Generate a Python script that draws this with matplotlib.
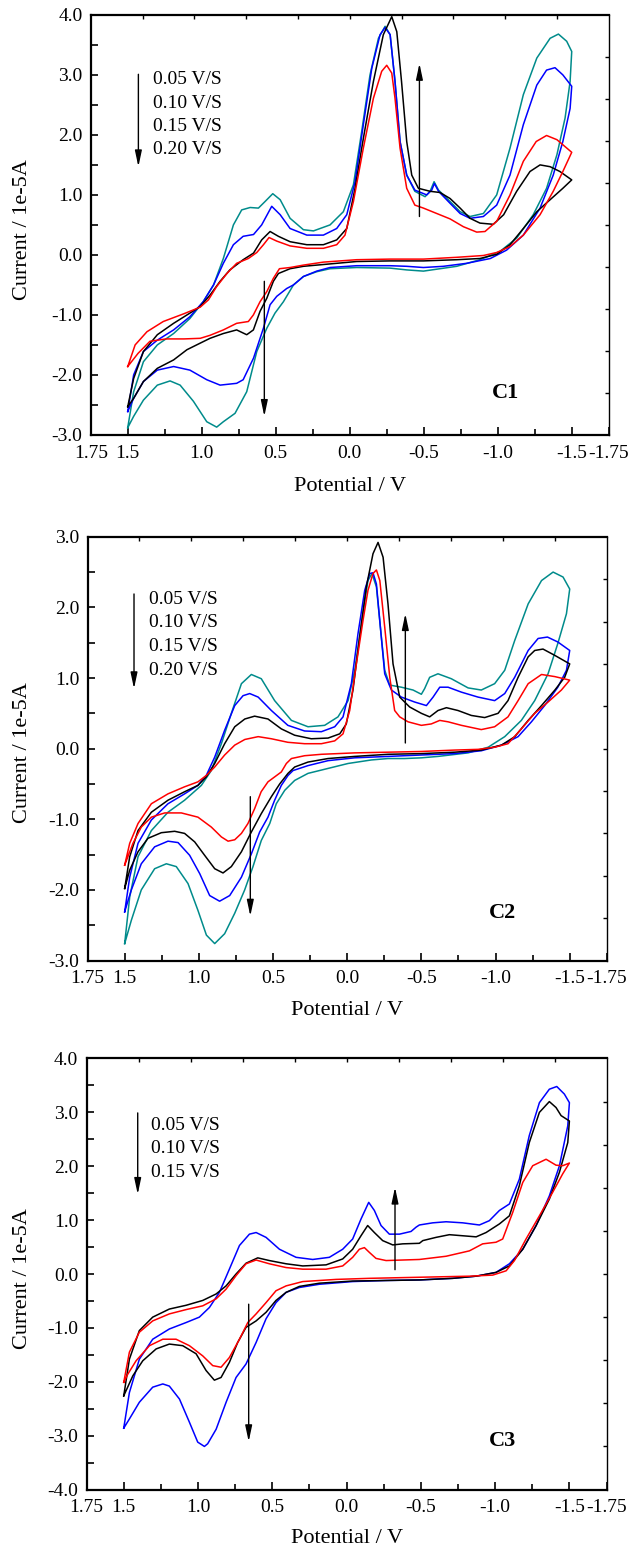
import numpy as np
import matplotlib
matplotlib.use("Agg")
import matplotlib.pyplot as plt

plt.rcParams['font.family'] = ['Liberation Serif', 'DejaVu Serif']
plt.rcParams['axes.unicode_minus'] = False

# ---- C1 : cyclic voltammograms (potential V, current 1e-5 A) ----
c1_red_v = [1.5, 1.45, 1.37, 1.26, 1.12, 1.01, 0.955, 0.90, 0.83, 0.764, 0.685, 0.628, 0.583, 0.545, 0.493, 0.403,
            0.29, 0.178, 0.088, 0.032, -0.025, -0.092, -0.16, -0.216, -0.25, -0.284, -0.306, -0.34, -0.385, -0.44,
            -0.498, -0.588, -0.678, -0.768, -0.858, -0.914, -0.993, -1.083, -1.173, -1.26, -1.33, -1.40, -1.5,
            -1.44, -1.375, -1.286, -1.173, -1.083, -0.993, -0.903, -0.723, -0.498, -0.272, -0.047, 0.178, 0.313,
            0.403, 0.475, 0.516, 0.56, 0.606, 0.651, 0.685, 0.764, 0.854, 0.944, 1.01, 1.12, 1.24, 1.35, 1.43, 1.5]
c1_red_i = [-1.86, -1.5, -1.28, -1.11, -0.98, -0.87, -0.75, -0.53, -0.31, -0.14, -0.06, 0.04, 0.17, 0.29, 0.23, 0.15,
            0.11, 0.11, 0.17, 0.33, 0.89, 1.78, 2.61, 3.06, 3.16, 3.03, 2.61, 1.78, 1.11, 0.83,
            0.78, 0.69, 0.6, 0.47, 0.38, 0.39, 0.56, 1.0, 1.56, 1.89, 1.99, 1.92, 1.71,
            1.39, 1.06, 0.67, 0.33, 0.14, 0.04, -0.01, -0.04, -0.07, -0.07, -0.08, -0.12, -0.17,
            -0.21, -0.23, -0.39, -0.61, -0.78, -1.0, -1.11, -1.14, -1.25, -1.34, -1.39, -1.4, -1.4, -1.44, -1.64, -1.86]

c1_black_v = [1.5, 1.46, 1.394, 1.30, 1.19, 1.08, 1.01, 0.944, 0.876, 0.81, 0.72, 0.65, 0.595, 0.538, 0.482, 0.403,
              0.29, 0.178, 0.088, 0.02, -0.036, -0.092, -0.16, -0.227, -0.284, -0.318, -0.35, -0.385, -0.419, -0.464,
              -0.543, -0.61, -0.678, -0.746, -0.813, -0.88, -0.97, -1.04, -1.128, -1.218, -1.286, -1.354, -1.42, -1.5,
              -1.44, -1.354, -1.264, -1.173, -1.083, -0.993, -0.88, -0.723, -0.498, -0.272, -0.047, 0.178, 0.313,
              0.403, 0.482, 0.516, 0.56, 0.606, 0.651, 0.696, 0.764, 0.854, 0.944, 1.01, 1.10, 1.19, 1.30, 1.394,
              1.46, 1.5]
c1_black_i = [-2.53, -2.06, -1.61, -1.33, -1.14, -0.97, -0.86, -0.67, -0.44, -0.25, -0.08, 0.03, 0.25, 0.39, 0.31, 0.22,
              0.17, 0.17, 0.25, 0.44, 1.11, 1.94, 2.89, 3.67, 3.97, 3.72, 2.89, 1.89, 1.33, 1.11,
              1.06, 1.04, 0.94, 0.78, 0.61, 0.53, 0.51, 0.67, 1.06, 1.39, 1.5, 1.47, 1.39, 1.25,
              1.11, 0.92, 0.72, 0.44, 0.17, 0.01, -0.06, -0.08, -0.1, -0.1, -0.11, -0.16, -0.19,
              -0.23, -0.31, -0.44, -0.72, -0.94, -1.25, -1.33, -1.25, -1.31, -1.39, -1.47, -1.58, -1.75, -1.89, -2.11,
              -2.39, -2.53]

c1_blue_v = [1.5, 1.46, 1.394, 1.30, 1.19, 1.08, 0.99, 0.92, 0.854, 0.786, 0.72, 0.65, 0.595, 0.527, 0.47, 0.403,
             0.29, 0.178, 0.088, 0.02, -0.036, -0.092, -0.149, -0.205, -0.239, -0.273, -0.306, -0.34, -0.385, -0.44,
             -0.52, -0.554, -0.572, -0.6, -0.678, -0.746, -0.813, -0.903, -0.993, -1.083, -1.173, -1.264, -1.33,
             -1.387, -1.44, -1.5,
             -1.489, -1.44, -1.375, -1.286, -1.173, -1.06, -0.95, -0.79, -0.633, -0.498, -0.385, -0.272, -0.047,
             0.133, 0.223, 0.313, 0.38, 0.426, 0.493, 0.538, 0.583, 0.65, 0.72, 0.764, 0.876, 0.966, 1.08, 1.19,
             1.30, 1.394, 1.46, 1.5]
c1_blue_i = [-2.61, -2.0, -1.61, -1.42, -1.25, -1.03, -0.78, -0.5, -0.14, 0.17, 0.31, 0.34, 0.5, 0.81, 0.67, 0.44,
             0.33, 0.33, 0.44, 0.67, 1.22, 2.17, 3.11, 3.67, 3.79, 3.67, 2.89, 1.89, 1.33, 1.08,
             1.0, 1.08, 1.19, 1.06, 0.86, 0.69, 0.61, 0.64, 0.83, 1.33, 2.17, 2.83, 3.08,
             3.12, 3.0, 2.81,
             2.44, 1.89, 1.33, 0.78, 0.33, 0.08, -0.06, -0.14, -0.19, -0.21, -0.19, -0.18, -0.18,
             -0.21, -0.27, -0.36, -0.5, -0.56, -0.69, -0.83, -1.22, -1.72, -2.08, -2.14, -2.17, -2.08, -1.92, -1.86,
             -1.92, -2.11, -2.39, -2.61]

c1_teal_v = [1.5, 1.46, 1.394, 1.30, 1.19, 1.08, 0.99, 0.92, 0.854, 0.786, 0.73, 0.673, 0.617, 0.572, 0.52, 0.47,
             0.403, 0.313, 0.245, 0.133, 0.043, -0.025, -0.081, -0.137, -0.194, -0.239, -0.273, -0.306, -0.34,
             -0.385, -0.44, -0.509, -0.543, -0.57, -0.6, -0.678, -0.746, -0.813, -0.903, -0.993, -1.083, -1.173,
             -1.264, -1.354, -1.41, -1.466, -1.5,
             -1.489, -1.455, -1.40, -1.33, -1.24, -1.128, -1.016, -0.88, -0.723, -0.498, -0.385, -0.272, -0.047,
             0.133, 0.223, 0.313, 0.38, 0.448, 0.505, 0.56, 0.628, 0.696, 0.775, 0.854, 0.899, 0.966, 1.056, 1.146,
             1.214, 1.30, 1.394, 1.46, 1.5]
c1_teal_i = [-2.88, -2.28, -1.78, -1.5, -1.31, -1.06, -0.78, -0.5, -0.06, 0.5, 0.75, 0.79, 0.78, 0.89, 1.02, 0.92,
             0.61, 0.42, 0.4, 0.5, 0.72, 1.17, 2.06, 3.0, 3.61, 3.81, 3.67, 2.89, 1.89,
             1.33, 1.06, 0.97, 1.06, 1.22, 1.08, 0.89, 0.72, 0.64, 0.69, 1.0, 1.78, 2.67,
             3.28, 3.61, 3.68, 3.56, 3.39,
             2.89, 2.28, 1.67, 1.11, 0.67, 0.28, 0.06, -0.08, -0.19, -0.27, -0.25, -0.22, -0.21,
             -0.23, -0.28, -0.36, -0.5, -0.78, -0.97, -1.22, -1.61, -2.28, -2.64, -2.78, -2.87, -2.78, -2.44, -2.17,
             -2.1, -2.17, -2.42, -2.69, -2.88]

# ---- C2 ----
c2_red_v = [1.5, 1.466, 1.41, 1.32, 1.208, 1.096, 1.006, 0.95, 0.893, 0.826, 0.758, 0.69, 0.60, 0.511, 0.40, 0.287,
            0.174, 0.084, 0.028, -0.017, -0.062, -0.107, -0.14, -0.174, -0.197, -0.22, -0.253, -0.287, -0.32,
            -0.354, -0.41, -0.5, -0.567, -0.624, -0.68, -0.77, -0.904, -0.994, -1.084, -1.152, -1.22, -1.31, -1.4,
            -1.5,
            -1.444, -1.354, -1.264, -1.174, -1.084, -0.994, -0.882, -0.725, -0.5, -0.275, -0.05, 0.174, 0.287,
            0.376, 0.41, 0.444, 0.489, 0.534, 0.58, 0.624, 0.669, 0.713, 0.758, 0.803, 0.848, 0.916, 1.006, 1.118,
            1.23, 1.32, 1.388, 1.444, 1.5]
c2_red_i = [-1.65, -1.34, -1.06, -0.78, -0.64, -0.54, -0.47, -0.38, -0.26, -0.09, 0.05, 0.13, 0.17, 0.14, 0.09, 0.07,
            0.07, 0.11, 0.21, 0.54, 1.2, 1.82, 2.24, 2.48, 2.53, 2.38, 1.72, 1.01, 0.54,
            0.45, 0.38, 0.33, 0.35, 0.4, 0.38, 0.33, 0.27, 0.31, 0.45, 0.68, 0.92, 1.05, 1.02,
            0.97,
            0.83, 0.66, 0.5, 0.28, 0.07, 0.02, -0.01, -0.02, -0.04, -0.05, -0.06, -0.08, -0.1,
            -0.14, -0.21, -0.33, -0.4, -0.47, -0.61, -0.85, -1.06, -1.2, -1.29, -1.31, -1.25, -1.11, -0.97, -0.91,
            -0.91, -0.97, -1.11, -1.34, -1.65]

c2_black_v = [1.5, 1.466, 1.41, 1.32, 1.208, 1.096, 1.006, 0.95, 0.893, 0.826, 0.758, 0.69, 0.624, 0.534, 0.444,
              0.354, 0.242, 0.129, 0.05, 0.006, -0.039, -0.084, -0.129, -0.174, -0.208, -0.242, -0.275, -0.309,
              -0.354, -0.421, -0.5, -0.556, -0.612, -0.669, -0.747, -0.837, -0.927, -1.017, -1.084, -1.152, -1.22,
              -1.264, -1.32, -1.40, -1.5,
              -1.466, -1.4, -1.31, -1.22, -1.13, -1.04, -0.904, -0.725, -0.5, -0.275, -0.05, 0.129, 0.264, 0.354,
              0.399, 0.455, 0.511, 0.579, 0.646, 0.713, 0.781, 0.837, 0.893, 0.961, 1.028, 1.096, 1.163, 1.253,
              1.343, 1.41, 1.466, 1.5]
c2_black_i = [-1.98, -1.53, -1.16, -0.9, -0.73, -0.61, -0.52, -0.4, -0.21, 0.07, 0.31, 0.42, 0.46, 0.42, 0.28,
              0.19, 0.14, 0.15, 0.21, 0.35, 0.83, 1.58, 2.29, 2.76, 2.92, 2.71, 2.05, 1.2,
              0.73, 0.59, 0.5, 0.45, 0.54, 0.58, 0.54, 0.47, 0.44, 0.5, 0.68, 1.01, 1.3,
              1.39, 1.41, 1.32, 1.2,
              1.01, 0.83, 0.61, 0.4, 0.17, 0.05, -0.02, -0.05, -0.07, -0.08, -0.11, -0.14, -0.19, -0.26,
              -0.35, -0.5, -0.68, -0.92, -1.18, -1.46, -1.67, -1.76, -1.7, -1.51, -1.32, -1.2, -1.17, -1.19,
              -1.27, -1.46, -1.72, -1.98]

c2_blue_v = [1.5, 1.466, 1.41, 1.32, 1.208, 1.096, 1.006, 0.95, 0.893, 0.826, 0.758, 0.702, 0.657, 0.6, 0.511, 0.4,
             0.287, 0.174, 0.084, 0.028, -0.028, -0.073, -0.118, -0.152, -0.174, -0.197, -0.226, -0.253, -0.298,
             -0.365, -0.455, -0.534, -0.579, -0.624, -0.68, -0.77, -0.882, -0.994, -1.062, -1.129, -1.22, -1.287,
             -1.35, -1.42, -1.5,
             -1.478, -1.42, -1.331, -1.242, -1.152, -1.04, -0.904, -0.725, -0.5, -0.275, -0.05, 0.129, 0.264,
             0.365, 0.399, 0.444, 0.489, 0.534, 0.59, 0.646, 0.713, 0.792, 0.86, 0.927, 0.994, 1.062, 1.14, 1.208,
             1.298, 1.388, 1.455, 1.5]
c2_blue_i = [-2.31, -1.82, -1.34, -1.01, -0.78, -0.64, -0.52, -0.38, -0.12, 0.26, 0.61, 0.75, 0.78, 0.73, 0.54, 0.33,
             0.25, 0.24, 0.31, 0.45, 0.92, 1.63, 2.24, 2.48, 2.49, 2.33, 1.67, 1.06, 0.83,
             0.73, 0.66, 0.61, 0.73, 0.87, 0.87, 0.8, 0.73, 0.68, 0.78, 1.01, 1.39, 1.56,
             1.58, 1.51, 1.39,
             1.11, 0.87, 0.61, 0.38, 0.17, 0.05, -0.03, -0.07, -0.09, -0.11, -0.13, -0.17, -0.24,
             -0.31, -0.38, -0.52, -0.73, -0.97, -1.18, -1.49, -1.82, -2.08, -2.16, -2.08, -1.77, -1.51, -1.33, -1.31,
             -1.39, -1.63, -2.0, -2.31]

c2_teal_v = [1.5, 1.466, 1.41, 1.32, 1.208, 1.096, 0.983, 0.916, 0.848, 0.781, 0.713, 0.646, 0.579, 0.489, 0.376,
             0.264, 0.152, 0.062, -0.006, -0.051, -0.096, -0.14, -0.167, -0.197, -0.226, -0.253, -0.287, -0.365,
             -0.444, -0.5, -0.522, -0.556, -0.612, -0.702, -0.815, -0.904, -0.994, -1.062, -1.129, -1.22, -1.31,
             -1.388, -1.455, -1.5,
             -1.478, -1.42, -1.354, -1.264, -1.174, -1.062, -0.95, -0.815, -0.612, -0.5, -0.387, -0.275, -0.163,
             -0.006, 0.129, 0.264, 0.354, 0.421, 0.478, 0.522, 0.579, 0.635, 0.691, 0.758, 0.826, 0.893, 0.949,
             1.006, 1.073, 1.152, 1.219, 1.298, 1.388, 1.455, 1.5]
c2_teal_i = [-2.76, -2.1, -1.53, -1.16, -0.9, -0.73, -0.52, -0.31, 0.07, 0.5, 0.92, 1.05, 0.99, 0.68, 0.4,
             0.31, 0.33, 0.45, 0.68, 1.11, 1.77, 2.38, 2.48, 2.29, 1.67, 1.11, 0.9, 0.87,
             0.83, 0.77, 0.85, 1.01, 1.06, 0.99, 0.86, 0.83, 0.92, 1.11, 1.53, 2.05, 2.38,
             2.5, 2.43, 2.26,
             1.91, 1.49, 1.06, 0.68, 0.4, 0.17, 0.02, -0.06, -0.11, -0.13, -0.14, -0.14, -0.16,
             -0.21, -0.28, -0.35, -0.45, -0.59, -0.78, -1.06, -1.3, -1.67, -2.0, -2.33, -2.62, -2.76, -2.64,
             -2.29, -1.91, -1.67, -1.63, -1.7, -2.0, -2.43, -2.76]

# ---- C3 ----
c3_red_v = [1.5, 1.462, 1.395, 1.305, 1.193, 1.08, 0.968, 0.878, 0.811, 0.744, 0.677, 0.609, 0.52, 0.407, 0.295,
            0.138, 0.026, -0.041, -0.086, -0.12, -0.154, -0.198, -0.266, -0.49, -0.67, -0.827, -0.916, -1.006,
            -1.051, -1.118, -1.186, -1.253, -1.343, -1.41, -1.455, -1.5,
            -1.455, -1.388, -1.298, -1.208, -1.13, -1.074, -0.984, -0.827, -0.49, -0.154, 0.071, 0.295, 0.407,
            0.475, 0.542, 0.609, 0.665, 0.721, 0.789, 0.845, 0.901, 0.968, 1.058, 1.148, 1.237, 1.327, 1.417,
            1.473, 1.5]
c3_red_i = [-2.01, -1.45, -1.08, -0.87, -0.74, -0.66, -0.59, -0.46, -0.28, -0.03, 0.19, 0.26, 0.19, 0.12, 0.09,
            0.09, 0.15, 0.31, 0.46, 0.49, 0.4, 0.29, 0.25, 0.27, 0.33, 0.43, 0.56, 0.59,
            0.65, 1.14, 1.7, 2.01, 2.13, 2.02, 2.01, 2.06,
            1.86, 1.52, 1.08, 0.65, 0.25, 0.06, -0.02, -0.04, -0.06, -0.08, -0.1, -0.14, -0.22,
            -0.31, -0.53, -0.74, -0.9, -1.21, -1.55, -1.73, -1.7, -1.52, -1.33, -1.21, -1.21, -1.33, -1.61,
            -1.86, -2.01]

c3_black_v = [1.5, 1.462, 1.395, 1.305, 1.193, 1.08, 0.968, 0.878, 0.811, 0.744, 0.677, 0.598, 0.52, 0.407, 0.295,
              0.138, 0.026, -0.041, -0.097, -0.142, -0.187, -0.243, -0.311, -0.378, -0.49, -0.513, -0.602, -0.692,
              -0.782, -0.872, -0.939, -1.029, -1.096, -1.163, -1.23, -1.298, -1.365, -1.41, -1.444, -1.5,
              -1.489, -1.433, -1.365, -1.276, -1.186, -1.096, -1.006, -0.872, -0.715, -0.49, -0.266, -0.041, 0.183,
              0.318, 0.407, 0.475, 0.542, 0.609, 0.677, 0.733, 0.789, 0.845, 0.89, 0.946, 1.013, 1.103, 1.193,
              1.282, 1.372, 1.439, 1.5]
c3_black_i = [-2.26, -1.58, -1.05, -0.8, -0.65, -0.58, -0.49, -0.37, -0.22, 0.0, 0.2, 0.3, 0.25, 0.19, 0.15,
              0.17, 0.28, 0.46, 0.71, 0.9, 0.77, 0.62, 0.54, 0.56, 0.57, 0.62, 0.68, 0.73,
              0.71, 0.69, 0.77, 0.93, 1.08, 1.64, 2.44, 3.0, 3.2, 3.09, 2.94, 2.84,
              2.44, 1.89, 1.39, 0.9, 0.46, 0.15, 0.03, -0.04, -0.08, -0.11, -0.12, -0.13, -0.17,
              -0.23, -0.34, -0.49, -0.71, -0.87, -0.99, -1.27, -1.64, -1.92, -1.97, -1.79, -1.48, -1.33, -1.3,
              -1.39, -1.61, -1.89, -2.26]

c3_blue_v = [1.5, 1.462, 1.395, 1.305, 1.193, 1.08, 0.991, 0.923, 0.856, 0.789, 0.721, 0.654, 0.609, 0.542, 0.452,
             0.34, 0.228, 0.116, 0.026, -0.041, -0.097, -0.149, -0.187, -0.232, -0.288, -0.356, -0.434, -0.468,
             -0.49, -0.58, -0.67, -0.782, -0.894, -0.961, -1.029, -1.096, -1.163, -1.23, -1.298, -1.365, -1.415,
             -1.466, -1.5,
             -1.489, -1.433, -1.365, -1.276, -1.186, -1.096, -1.006, -0.872, -0.715, -0.49, -0.266, -0.041, 0.183,
             0.318, 0.407, 0.475, 0.542, 0.609, 0.677, 0.744, 0.811, 0.878, 0.935, 0.957, 1.002, 1.058, 1.125,
             1.193, 1.237, 1.305, 1.395, 1.462, 1.5]
c3_blue_i = [-2.86, -2.2, -1.58, -1.21, -1.02, -0.9, -0.8, -0.62, -0.34, 0.09, 0.53, 0.74, 0.77, 0.68, 0.46,
             0.31, 0.27, 0.31, 0.46, 0.65, 1.02, 1.33, 1.18, 0.9, 0.74, 0.74, 0.79, 0.87,
             0.91, 0.95, 0.97, 0.95, 0.91, 0.99, 1.18, 1.3, 1.76, 2.57, 3.18, 3.43, 3.48,
             3.34, 3.18,
             2.75, 2.01, 1.45, 0.9, 0.46, 0.19, 0.03, -0.04, -0.08, -0.11, -0.12, -0.14, -0.19,
             -0.25, -0.34, -0.53, -0.83, -1.27, -1.67, -1.92, -2.38, -2.88, -3.15, -3.2, -3.12, -2.75, -2.32,
             -2.08, -2.04, -2.1, -2.38, -2.69, -2.86]

x_tick_vals = [1.75, 1.5, 1.0, 0.5, 0.0, -0.5, -1.0, -1.5, -1.75]
x_tick_text = ["1.75", "1.5", "1.0", "0.5", "0.0", "-0.5", "-1.0", "-1.5", "-1.75"]
x_minor_vals = [1.25, 0.75, 0.25, -0.25, -0.75, -1.25]

rates = ["0.05 V/S", "0.10 V/S", "0.15 V/S", "0.20 V/S"]
col_red, col_black, col_blue, col_teal = "#ff0000", "#000000", "#0000ff", "#008b8b"

fig = plt.figure(figsize=(6.43, 15.5), dpi=100)

panels = [
    dict(pos=[0.1411, 0.7194, 0.8056, 0.2710], ylim=(-3, 4), name="C1", name_xy=(-1.05, -2.3),
         curves=[(c1_teal_v, c1_teal_i, col_teal), (c1_blue_v, c1_blue_i, col_blue),
                 (c1_black_v, c1_black_i, col_black), (c1_red_v, c1_red_i, col_red)],
         nrates=4, leg_x=1.327, leg_y=[2.92, 2.53, 2.14, 1.75], leg_arrow=(1.428, 3.01, 1.47),
         up=(-0.471, 0.64, 3.19), down=(0.577, -0.44, -2.69), xlab_y=-0.10, ylab_x=-0.113),
    dict(pos=[0.1362, 0.3803, 0.8075, 0.2734], ylim=(-3, 3), name="C2", name_xy=(-1.05, -2.33),
         curves=[(c2_teal_v, c2_teal_i, col_teal), (c2_blue_v, c2_blue_i, col_blue),
                 (c2_black_v, c2_black_i, col_black), (c2_red_v, c2_red_i, col_red)],
         nrates=4, leg_x=1.338, leg_y=[2.11, 1.78, 1.44, 1.11], leg_arrow=(1.437, 2.19, 0.85),
         up=(-0.392, 0.08, 1.91), down=(0.653, -0.68, -2.37), xlab_y=-0.095, ylab_x=-0.107),
    dict(pos=[0.1347, 0.0390, 0.8086, 0.2781], ylim=(-4, 4), name="C3", name_xy=(-1.05, -3.09),
         curves=[(c3_blue_v, c3_blue_i, col_blue), (c3_black_v, c3_black_i, col_black),
                 (c3_red_v, c3_red_i, col_red)],
         nrates=3, leg_x=1.316, leg_y=[2.76, 2.33, 1.89], leg_arrow=(1.406, 2.99, 1.48),
         up=(-0.326, 0.08, 1.61), down=(0.659, -0.56, -3.11), xlab_y=-0.092, ylab_x=-0.105),
]

arrow_kw = dict(arrowstyle="-|>,head_length=0.8,head_width=0.17", color="black", lw=1.0,
                shrinkA=0, shrinkB=0, mutation_scale=12)

for p in panels:
    ax = fig.add_axes(p["pos"])
    for v, i, c in p["curves"]:
        ax.plot(v, i, color=c, lw=1.1)
    ax.set_xlim(1.75, -1.75)
    ax.set_ylim(*p["ylim"])
    ax.set_xticks(x_tick_vals)
    ax.set_xticklabels(x_tick_text)
    ax.set_xticks(x_minor_vals, minor=True)
    yt = np.arange(p["ylim"][0], p["ylim"][1] + 0.5, 1.0)
    ax.set_yticks(yt)
    ax.set_yticklabels(["%.1f" % t for t in yt])
    ax.set_yticks(np.arange(p["ylim"][0] + 0.5, p["ylim"][1], 1.0), minor=True)
    ax.tick_params(axis="both", which="both", direction="in", top=False, right=False, labelsize=14)
    ax.tick_params(axis="x", which="major", length=6, width=1.2, pad=7)
    ax.tick_params(axis="x", which="minor", length=4, width=1.2)
    ax.tick_params(axis="y", which="both", length=5, width=1.2, pad=6)
    for s in ["left", "bottom", "top"]:
        ax.spines[s].set_linewidth(1.6)
    ax.spines["right"].set_linewidth(1.0)
    ax.set_xlabel("Potential / V", fontsize=16)
    ax.set_ylabel("Current / 1e-5A", fontsize=16)
    ax.xaxis.set_label_coords(0.5, p["xlab_y"])
    ax.yaxis.set_label_coords(p["ylab_x"], 0.49)

    # legend text with arrow
    for k in range(p["nrates"]):
        ax.text(p["leg_x"], p["leg_y"][k], rates[k], fontsize=14, ha="left", va="center")
    lx, ly0, ly1 = p["leg_arrow"]
    ax.annotate("", xy=(lx, ly1), xytext=(lx, ly0), arrowprops=arrow_kw)
    ux, uy0, uy1 = p["up"]
    ax.annotate("", xy=(ux, uy1), xytext=(ux, uy0), arrowprops=arrow_kw)
    dx, dy0, dy1 = p["down"]
    ax.annotate("", xy=(dx, dy1), xytext=(dx, dy0), arrowprops=arrow_kw)
    ax.text(p["name_xy"][0], p["name_xy"][1], p["name"], fontsize=16, fontweight="bold",
            ha="center", va="center")

    # top/right ticks on a separate 0..1 scale
    ov = fig.add_axes(p["pos"], facecolor="none")
    ov.set_xlim(0, 1)
    ov.set_ylim(0, 1)
    ov.xaxis.tick_top()
    ov.yaxis.tick_right()
    ov.set_xticks(np.linspace(0.1, 0.9, 9))
    ov.set_yticks(np.linspace(0.1, 0.9, 9))
    ov.tick_params(direction="in", length=3, width=1.0, labeltop=False, labelright=False)
    for s in ov.spines.values():
        s.set_visible(False)

fig.savefig("out.png", dpi=100)
